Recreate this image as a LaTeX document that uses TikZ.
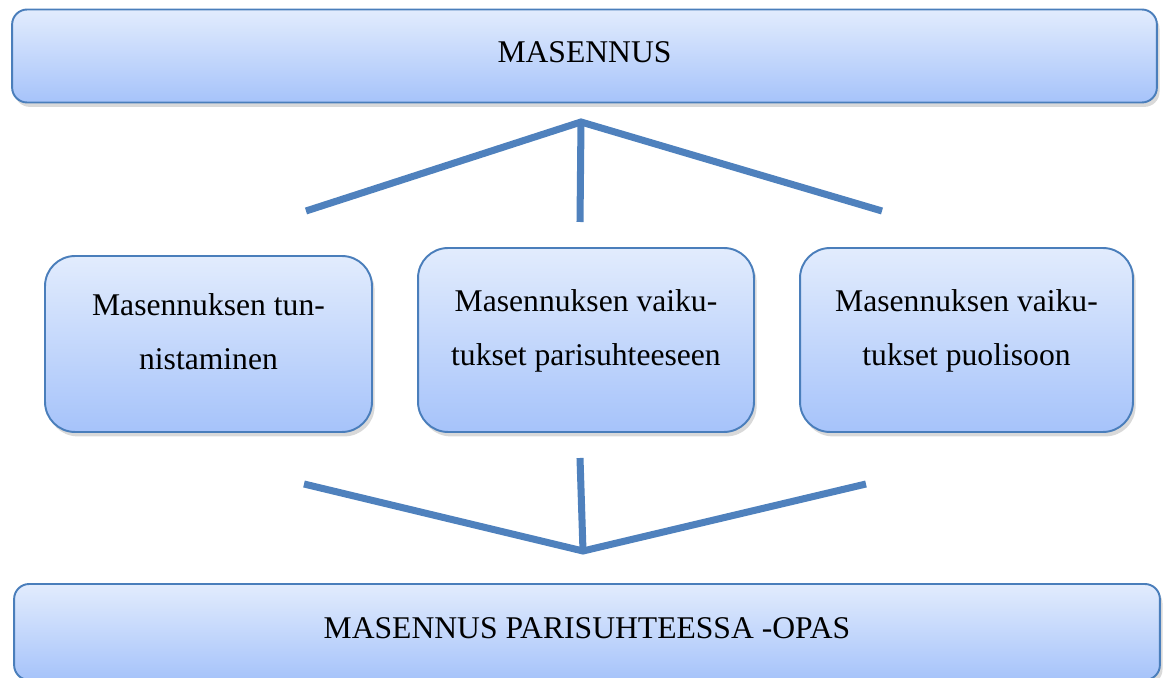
\documentclass[tikz,border=0pt]{standalone}
\usepackage{fontspec}
\setmainfont{Liberation Serif}
\usetikzlibrary{shadows}

\definecolor{boxline}{HTML}{4A7EBB}
\definecolor{boxtop}{HTML}{E2ECFD}
\definecolor{boxbottom}{HTML}{A6C3FA}
\definecolor{fanline}{HTML}{4F81BD}

\tikzset{
  box/.style={draw=boxline, line width=1.1pt, top color=boxtop, bottom color=boxbottom,
    drop shadow={opacity=0.3, shadow xshift=1.5pt, shadow yshift=-2.5pt},
    align=center, inner sep=0pt, font=\fontsize{18}{30.6}\selectfont},
  widebox/.style={box, rounded corners=0.3cm, minimum height=1.86cm, text depth=4.5pt},
  topicbox/.style={box, rounded corners=0.6cm, text depth=14pt},
  fan/.style={draw=fanline, line width=4pt}
}

\begin{document}
\begin{tikzpicture}[x=0.02cm,y=-0.02cm]
  \useasboundingbox (0,0) rectangle (1163,678);

  % main title and guide
  \node[widebox, minimum width=22.9cm] (masennus) at (584.5,56) {MASENNUS};
  \node[widebox, minimum width=22.92cm, minimum height=1.92cm] (opas) at (587,632)
    {MASENNUS PARISUHTEESSA -OPAS};

  % the three topics
  \node[topicbox, minimum width=6.54cm, minimum height=3.52cm] (tunnistus) at (208.5,344)
    {Masennuksen tun-\\nistaminen};
  \node[topicbox, minimum width=6.72cm, minimum height=3.68cm] (parisuhde) at (586,340)
    {Masennuksen vaiku-\\tukset parisuhteeseen};
  \node[topicbox, minimum width=6.66cm, minimum height=3.68cm] (puoliso) at (966.5,340)
    {Masennuksen vaiku-\\tukset puolisoon};

  % upper fan
  \coordinate (ylakarki) at (581,122);
  \coordinate (ylavasen) at (306,211);
  \coordinate (ylakeski) at (580,222);
  \coordinate (ylaoikea) at (882,211);
  \draw[fan] (ylavasen) -- (ylakarki) -- (ylaoikea);
  \draw[fan] (ylakarki) -- (ylakeski);

  % lower fan
  \coordinate (alakarki) at (583,551);
  \coordinate (alavasen) at (304,484);
  \coordinate (alakeski) at (580,458);
  \coordinate (alaoikea) at (866,484);
  \draw[fan] (alavasen) -- (alakarki) -- (alaoikea);
  \draw[fan] (alakeski) -- (alakarki);
\end{tikzpicture}
\end{document}
